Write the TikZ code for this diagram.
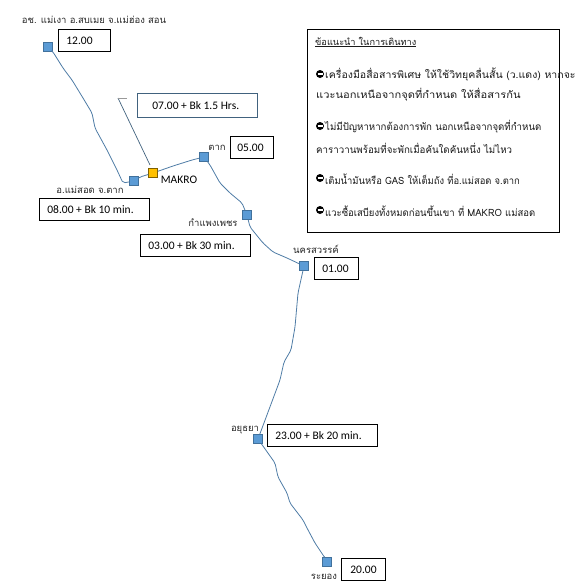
\documentclass[tikz,border=0pt]{standalone}
\usepackage{fontspec}
\usepackage{graphicx}
\setmainfont{Carlito}
\newfontfamily\thaifont[Script=Thai]{Loma}
\usepackage{tikz}
\usetikzlibrary{arrows.meta,positioning,calc}
\definecolor{stopblue}{HTML}{5B9BD5}
\definecolor{stopedge}{HTML}{41719C}
\definecolor{makroyellow}{HTML}{FFC000}
\definecolor{makroedge}{HTML}{7F6000}
\definecolor{routeblue}{HTML}{4F7CA6}
\definecolor{calloutedge}{HTML}{41627E}
\newcommand{\tipwide}[2]{\scalebox{#1}[1]{#2}}
\newcommand{\timetext}[2]{\makebox[#1][l]{#2}}
\tikzset{
	stopbox/.style={draw=stopedge, fill=stopblue, minimum size=9pt, inner sep=0pt, line width=0.6pt},
	timebox/.style={draw=black, fill=white, line width=0.8pt, font=\fontsize{11.5}{13}\selectfont, inner ysep=0pt, inner xsep=8pt, minimum height=22pt, anchor=north west},
	placelabel/.style={font=\thaifont\fontsize{9.5}{11}\selectfont, inner sep=0pt, text=black!85},
	routeline/.style={draw=routeblue, line width=0.8pt, line join=round, rounded corners=2pt},
	tipline/.style={font=\thaifont\fontsize{10}{12}\selectfont, inner sep=0pt, anchor=west, text=black!90},
	tipdot/.style={circle, fill=black, minimum size=8pt, inner sep=0pt, text=white}
}
\begin{document}
\begin{tikzpicture}[x=1pt,y=-1pt]
	\useasboundingbox (0,0) rectangle (587,587);
	% stops on the route
	\node[stopbox] (camp) at (48,47) {};
	\node[stopbox] (maesot) at (134,181) {};
	\node[stopbox, fill=makroyellow, draw=makroedge] (makro) at (153,173) {};
	\node[stopbox] (tak) at (204,157) {};
	\node[stopbox] (kamphaeng) at (247,215) {};
	\node[stopbox] (nakhon) at (304,266) {};
	\node[stopbox] (ayutthaya) at (258,439) {};
	\node[stopbox] (rayong) at (327,562) {};

	% route
	\draw[routeline] (camp) -- (53,52) -- (63,68) -- (72,80) -- (83,98) -- (92,113) -- (95,128) -- (107,150) -- (117,170) -- (123,183) -- (maesot);
	\draw[routeline] (maesot) -- (140,177) -- (makro);
	\draw[routeline] (makro) -- (173,166) -- (192,160) -- (tak);
	\draw[routeline] (tak) -- (210,165) -- (220,183) -- (230,193) -- (242,203) -- (kamphaeng);
	\draw[routeline] (kamphaeng) -- (250,227) -- (263,243) -- (273,252) -- (287,258) -- (nakhon);
	\draw[routeline] (nakhon) -- (298,293) -- (295,327) -- (291,350) -- (284,362) -- (280,380) -- (ayutthaya);
	\draw[routeline] (ayutthaya) -- (275,463) -- (278,477) -- (287,493) -- (290,503) -- (303,520) -- (307,528) -- (315,543) -- (325,558) -- (rayong);

	% call-out of the yellow stop
	\coordinate (calloutend) at (118,98);
	\coordinate (callouttop) at (127,98);
	\coordinate (calloutfoot) at (150,165);
	\draw[draw=calloutedge, line width=0.7pt] (calloutend) -- (calloutfoot);
	\draw[draw=black!40, line width=0.7pt] (calloutend) -- (callouttop);

	% time boxes
	\node[timebox] (t12) at (58,29) {\timetext{36pt}{12.00}};
	\node[timebox, draw=calloutedge, inner xsep=15pt, minimum height=24pt] (t07) at (137,93) {\timetext{90pt}{07.00 + Bk 1.5 Hrs.}};
	\node[timebox, inner xsep=7pt] (t05) at (230,136) {\timetext{29pt}{05.00}};
	\node[timebox] (t08) at (39,198) {\timetext{94pt}{08.00 + Bk 10 min.}};
	\node[timebox] (t03) at (140,234) {\timetext{94pt}{03.00 + Bk 30 min.}};
	\node[timebox] (t01) at (314,257) {\timetext{28pt}{01.00}};
	\node[timebox] (t23) at (267,424) {\timetext{94pt}{23.00 + Bk 20 min.}};
	\node[timebox, inner xsep=9pt] (t20) at (341,558) {\timetext{26pt}{20.00}};

	% place names
	\node[placelabel] (lbcamp) at (94,20) {อช. แม่เงา อ.สบเมย จ.แม่ฮ่อง สอน};
	\node[placelabel] (lbmaesot) at (90,190) {อ.แม่สอด จ.ตาก};
	\node[placelabel] (lbtak) at (217,148) {ตาก};
	\node[placelabel] (lbkamphaeng) at (213,223) {กำแพงเพชร};
	\node[placelabel] (lbnakhon) at (316,249) {นครสวรรค์};
	\node[placelabel] (lbayutthaya) at (245,430) {อยุธยา};
	\node[placelabel] (lbrayong) at (324,577) {ระยอง};
	\node[font=\fontsize{11.5}{13}\selectfont, inner sep=0pt] (lbmakro) at (179,180) {MAKRO};

	% advice box
	\node[draw=black, line width=0.8pt, anchor=north west, minimum width=252pt, minimum height=203pt] (advice) at (307,29) {};
	\node[tipline, font=\thaifont\fontsize{9.2}{11}\selectfont] (tiphead) at (315,42) {\underline{ข้อแนะนำ ในการเดินทาง}};
	\node[tipdot] (dot1) at (320,74) {\rule{5pt}{1.2pt}};
	\node[tipline] (tip1a) at (325,75) {\tipwide{1.055}{เครื่องมือสื่อสารพิเศษ ให้ใช้วิทยุคลื่นสั้น (ว.แดง)  หากจะ}};
	\node[tipline] (tip1b) at (316,95) {\tipwide{1.11}{แวะนอกเหนือจากจุดที่กำหนด ให้สื่อสารกัน}};
	\node[tipdot] (dot2) at (320,126) {\rule{5pt}{1.2pt}};
	\node[tipline] (tip2a) at (325,127) {\tipwide{0.966}{ไม่มีปัญหาหากต้องการพัก นอกเหนือจากจุดที่กำหนด}};
	\node[tipline] (tip2b) at (316,148) {\tipwide{0.973}{คาราวานพร้อมที่จะพักเมื่อคันใดคันหนึ่ง ไม่ไหว}};
	\node[tipdot] (dot3) at (320,178) {\rule{5pt}{1.2pt}};
	\node[tipline] (tip3) at (325,179) {\tipwide{0.94}{เติมน้ำมันหรือ GAS ให้เต็มถัง ที่อ.แม่สอด จ.ตาก}};
	\node[tipdot] (dot4) at (320,210) {\rule{5pt}{1.2pt}};
	\node[tipline] (tip4) at (325,211) {\tipwide{0.95}{แวะซื้อเสบียงทั้งหมดก่อนขึ้นเขา ที่ MAKRO แม่สอด}};
\end{tikzpicture}
\end{document}
